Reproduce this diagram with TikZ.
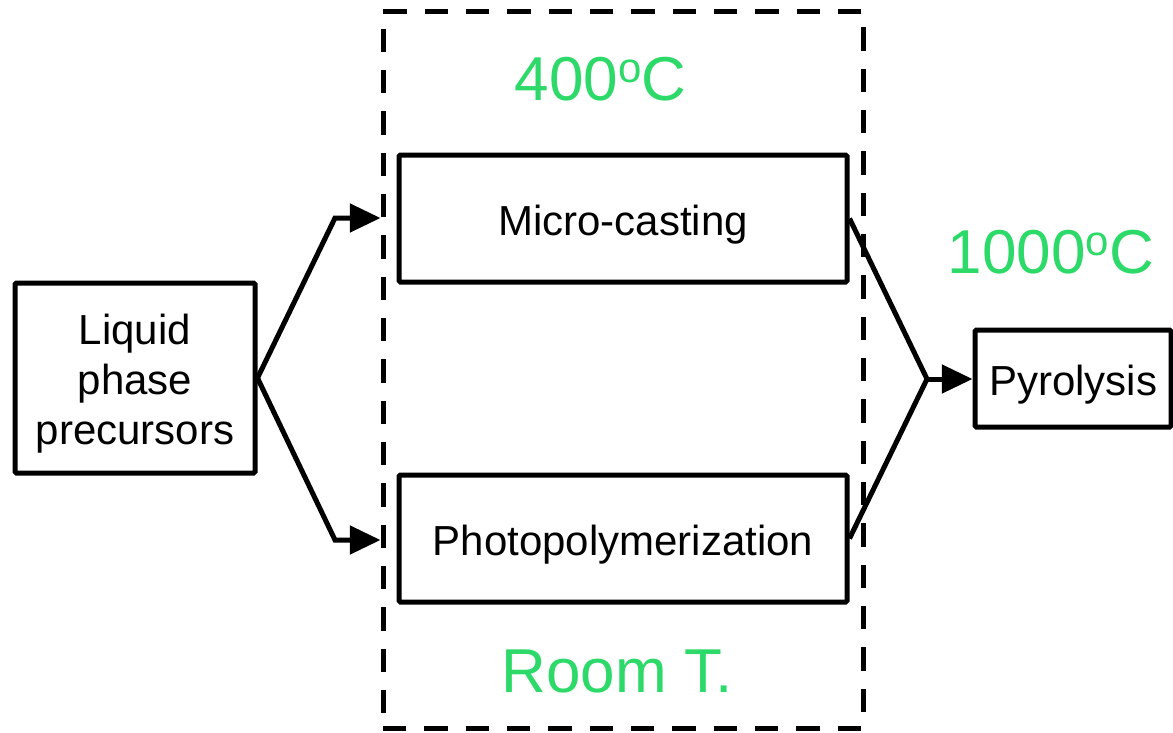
\documentclass[tikz,border=0pt]{standalone}
\usepackage{fontspec}
\setmainfont{Liberation Sans}
\usetikzlibrary{arrows.meta}
\definecolor{tgreen}{RGB}{45,218,105}
\newcommand{\degsup}{\raisebox{13.5pt}{\fontsize{31.5pt}{31.5pt}\selectfont o}}
\tikzset{
  box/.style={draw=black, line width=3.75pt, rounded corners=1pt, inner sep=0pt,
    font=\fontsize{31.5pt}{37.5pt}\selectfont, align=center},
  zonebox/.style={draw=black, line width=3.75pt, dash pattern=on 17.5pt off 13.5pt, inner sep=0pt},
  temp/.style={text=tgreen, font=\fontsize{46.5pt}{50pt}\selectfont, anchor=base, inner sep=0pt},
  conn/.style={draw=black, line width=3.75pt, line join=miter},
  arr/.style={conn, -{Triangle[length=23pt,width=21pt]}}
}
\begin{document}
\begin{tikzpicture}[x=0.75pt,y=-0.75pt]
\useasboundingbox (0,0) rectangle (1173,732);
\node[zonebox, minimum width=360pt, minimum height=537.75pt] (zone) at (623,369.5) {};
\node[box, minimum width=336pt, minimum height=95.25pt, text height=25pt, text depth=0pt] (micro) at (623,218.5) {Micro-casting};
\node[box, minimum width=336pt, minimum height=95.25pt, text height=25pt, text depth=0pt] (photo) at (623,538.5) {Photopolymerization};
\node[box, minimum width=180pt, minimum height=142.5pt] (liq) at (135,378) {\raisebox{-4.5pt}[\height][\depth]{\begin{tabular}{@{}c@{}}Liquid\\phase\\precursors\end{tabular}}};
\node[box, minimum width=147pt, minimum height=72.75pt, text height=25pt, text depth=0pt] (pyro) at (1073,378.5) {Pyrolysis};
\node[temp] (t400) at (600.5,100) {400\degsup C};
\node[temp] (troom) at (617,692) {Room T.};
\node[temp] (t1000) at (1051,273) {1000\degsup C};
\coordinate (k1) at (335,218);
\coordinate (k2) at (335,540);
\coordinate (j) at (927,379);
\draw[arr] (liq.east) -- (k1) -- (zone.west |- k1);
\draw[arr] (liq.east) -- (k2) -- (zone.west |- k2);
\draw[conn] (micro.east) -- (j);
\draw[conn] (photo.east) -- (j);
\draw[arr] (j) -- (pyro.west |- j);
\end{tikzpicture}
\end{document}
